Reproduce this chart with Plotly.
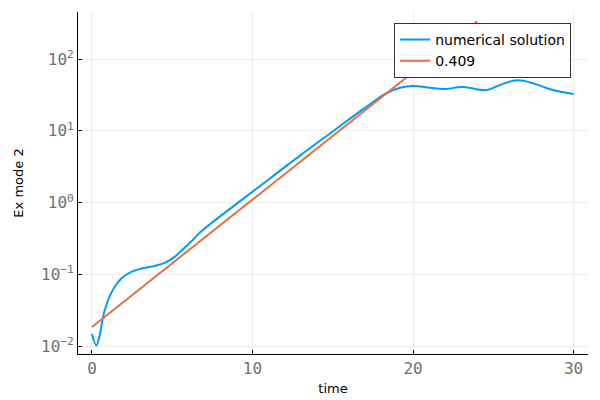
import plotly.graph_objects as go

# numerical solution
time_num = [0.0, 0.27, 0.48, 0.69, 1.0, 1.41, 1.83, 2.45, 3.07, 3.9, 4.53,
            5.15, 5.6, 6.2, 6.73, 7.35, 7.98, 10.0, 13.0, 15.0, 17.0, 18.3,
            19.19, 20.0, 21.06, 21.89, 23.13, 24.6, 25.42, 26.46, 27.5,
            28.5, 29.37, 30.0]
ex_num = [0.0148, 0.0103, 0.0142, 0.0257, 0.0438, 0.067, 0.088, 0.1087,
          0.121, 0.1316, 0.145, 0.176, 0.218, 0.29, 0.385, 0.50, 0.645,
          1.42, 4.6, 9.8, 20.9, 33.0, 39.8, 42.1, 39.8, 38.2, 40.7, 37.0,
          43.5, 50.5, 45.8, 38.2, 34.4, 32.5]

# fitted growth line (rate 0.409), end points
time_fit = [0.0, 24.0]
ex_fit = [0.0186, 335.0]

y_ticks = [0.01, 0.1, 1, 10, 100]
y_ticktext = ["10<sup>−2</sup>", "10<sup>−1</sup>", "10<sup>0</sup>",
              "10<sup>1</sup>", "10<sup>2</sup>"]
x_ticks = [0, 10, 20, 30]

fig = go.Figure()
fig.add_trace(go.Scatter(x=time_num, y=ex_num, mode="lines",
                         name="numerical solution",
                         line=dict(color="#009AFA", width=2, shape="spline", smoothing=1.0)))
fig.add_trace(go.Scatter(x=time_fit, y=ex_fit, mode="lines", name="0.409",
                         line=dict(color="#E26F46", width=2)))

# the page puts the figure 8px in from the top-left corner
tickfont = dict(family="DejaVu Sans Mono", size=16, color="#707070")
titlefont = dict(family="DejaVu Sans", size=13, color="black")
fig.update_layout(
    width=600, height=400,
    margin=dict(l=70, r=20, t=4, b=54),
    plot_bgcolor="white", paper_bgcolor="white",
    showlegend=True,
    legend=dict(x=0.967, y=0.968, xanchor="right", yanchor="top",
                bordercolor="#333333", borderwidth=1, bgcolor="white",
                font=dict(family="DejaVu Sans", size=14, color="black"),
                tracegroupgap=0, itemwidth=30),
    xaxis=dict(range=[-0.87, 30.9], tickvals=x_ticks,
               showline=True, linecolor="black", linewidth=1,
               ticks="inside", ticklen=4, tickcolor="black",
               showgrid=True, gridcolor="#ececec", gridwidth=1,
               zeroline=False, tickfont=tickfont, automargin=False,
               title=dict(text="time", font=titlefont, standoff=6)),
    yaxis=dict(type="log", range=[-2.107, 2.655],
               tickvals=y_ticks, ticktext=y_ticktext,
               showline=True, linecolor="black", linewidth=1,
               ticks="inside", ticklen=4, tickcolor="black",
               showgrid=True, gridcolor="#ececec", gridwidth=1,
               zeroline=False, tickfont=tickfont, automargin=False,
               title=dict(text="Ex mode 2", font=titlefont, standoff=14)),
)

fig.write_html("out.html")
